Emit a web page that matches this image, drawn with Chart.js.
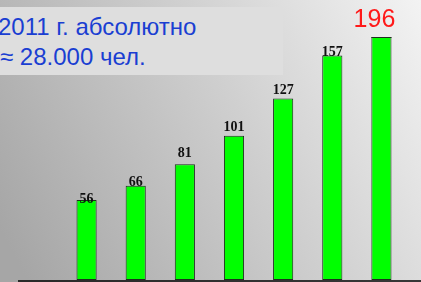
<!DOCTYPE html>
<html>
<head>
<meta charset="utf-8">
<script src="https://cdn.jsdelivr.net/npm/chart.js"></script>
<style>
  html, body { margin: 0; padding: 0; }
  body { width: 421px; height: 282px; position: relative; overflow: hidden; }
  #chart-box { position: absolute; left: 0; top: 0; width: 421px; height: 282px; }
  #note {
    position: absolute; left: 0; top: 7px; width: 283px; height: 68px;
    background: #dedede; color: #1a3ed2;
    font-family: "Liberation Sans", Arial, sans-serif; font-size: 24px; line-height: 30px;
    padding: 5px 0 0 0; box-sizing: border-box; text-indent: -2px; white-space: nowrap;
  }
</style>
</head>
<body>
<div id="chart-box"><canvas id="bars" width="421" height="282"></canvas></div>
<div id="note">2011 г. абсолютно<br>≈ 28.000 чел.</div>
<script>
const categories = ["1", "2", "3", "4", "5", "6", "7"];
const values = [56, 66, 81, 101, 127, 157, 196];
const valueLabels = ["56", "66", "81", "101", "127", "157", "196"];
// gap between bar top and its label
const labelGaps = [-3, 0, 7, 5, 4, 0, 10];

// background gradient, baseline and value labels
const decor = {
  id: "decor",
  beforeDraw(chart) {
    const ctx = chart.ctx;
    const g = ctx.createLinearGradient(0, 230, 421, 0);
    g.addColorStop(0, "#a6a6a6");
    g.addColorStop(0.55, "#cfcfcf");
    g.addColorStop(1, "#f3f3f3");
    ctx.save();
    ctx.fillStyle = g;
    ctx.fillRect(0, 0, chart.width, chart.height);
    ctx.restore();
  },
  afterDatasetsDraw(chart) {
    const ctx = chart.ctx;
    const area = chart.chartArea;
    const y0 = chart.scales.y.getPixelForValue(0);
    ctx.save();
    ctx.strokeStyle = "#000";
    ctx.lineWidth = 1.5;
    ctx.beginPath();
    ctx.moveTo(18, y0 + 1);
    ctx.lineTo(chart.width, y0 + 1);
    ctx.stroke();

    chart.getDatasetMeta(0).data.forEach((bar, i) => {
      const top = Math.max(bar.y, area.top);
      if (bar.y < area.top) {
        // bar runs past the scale: close its top edge
        ctx.strokeStyle = "#1e2e1e";
        ctx.lineWidth = 1;
        ctx.beginPath();
        ctx.moveTo(bar.x - bar.width / 2, top + 0.5);
        ctx.lineTo(bar.x + bar.width / 2, top + 0.5);
        ctx.stroke();
      }
      const last = i === values.length - 1;
      ctx.fillStyle = last ? "#ff1a1a" : "#111";
      ctx.font = last ? '25px "Liberation Sans", Arial, sans-serif'
                      : 'bold 14px "Liberation Serif", "Times New Roman", serif';
      ctx.textAlign = "center";
      ctx.textBaseline = "alphabetic";
      // the big red label sits a little left of its bar
      ctx.fillText(valueLabels[i], last ? bar.x - 7 : bar.x, top - labelGaps[i]);
    });
    ctx.restore();
  }
};

new Chart(document.getElementById("bars"), {
  type: "bar",
  data: {
    labels: categories,
    datasets: [{
      data: values,
      backgroundColor: "#00ff00",
      borderColor: "#1e2e1e",
      borderWidth: 1,
      borderSkipped: false,
      barPercentage: 0.41,
      categoryPercentage: 1,
      clip: 0
    }]
  },
  options: {
    responsive: false,
    animation: false,
    layout: { padding: { left: 62, right: 15, top: 37, bottom: 2 } },
    plugins: { legend: { display: false }, tooltip: { enabled: false } },
    scales: {
      x: { display: false },
      y: { display: false, min: 0, max: 170 }
    }
  },
  plugins: [decor]
});
</script>
</body>
</html>
